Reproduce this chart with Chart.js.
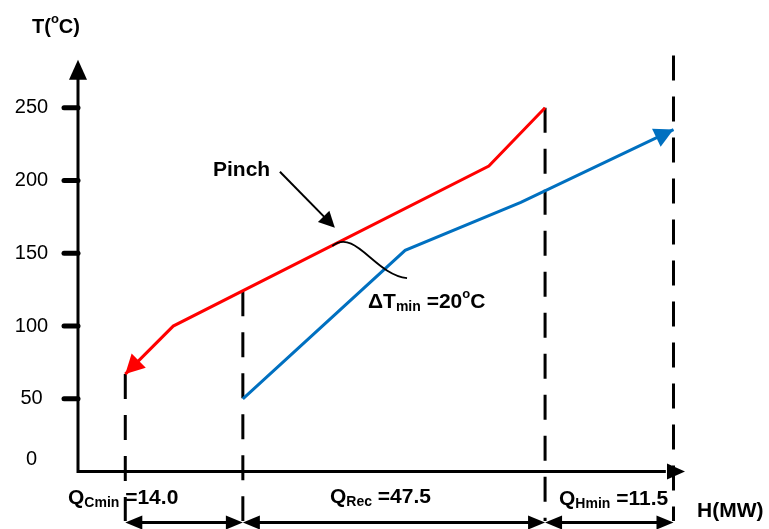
<!DOCTYPE html>
<html>
<head>
<meta charset="utf-8">
<script src="https://cdn.jsdelivr.net/npm/chart.js@4.4.0/dist/chart.umd.min.js"></script>
<style>
  html, body { margin: 0; padding: 0; background: #fff; }
  #wrap { width: 769px; height: 529px; position: relative; }
</style>
</head>
<body>
<div id="wrap"><canvas id="chart"></canvas></div>
<script>
// Composite curves - hot / cold streams

var hotH = [7.4, 14.9, 64.3, 73.1];
var hotT = [67, 100, 210, 250];
var coldH = [25.8, 51.2, 69.3, 93.2];
var coldT = [50, 152, 185, 235];
var tickT = [0, 50, 100, 150, 200, 250];
var boundH = [7.4, 25.8, 73.1, 93.2];
var boundTopT = [67, 124, 250, 286];
var qNames = ['Cmin', 'Rec', 'Hmin'];
var qValues = ['14.0', '47.5', '11.5'];

var COLORS = { hot: '#FF0000', cold: '#0070C0', ink: '#000000' };
var FONT = "'Liberation Sans', Arial, sans-serif";

function pts(xs, ys) {
  return xs.map(function (x, i) { return { x: x, y: ys[i] }; });
}

function arrowHead(ctx, x0, y0, x1, y1, len, half) {
  var a = Math.atan2(y1 - y0, x1 - x0);
  var bx = x1 - len * Math.cos(a), by = y1 - len * Math.sin(a);
  var nx = -Math.sin(a) * half, ny = Math.cos(a) * half;
  ctx.beginPath();
  ctx.moveTo(x1, y1);
  ctx.lineTo(bx + nx, by + ny);
  ctx.lineTo(bx - nx, by - ny);
  ctx.closePath();
  ctx.fill();
}

// text made of parts: [text, size, dy]
function richText(ctx, x, y, parts) {
  parts.forEach(function (p) {
    ctx.font = 'bold ' + p[1] + 'px ' + FONT;
    ctx.fillText(p[0], x, y + (p[2] || 0));
    x += ctx.measureText(p[0]).width;
  });
}

var datasets = [
  { data: pts(hotH, hotT), borderColor: COLORS.hot, borderWidth: 3 },
  { data: pts(coldH, coldT), borderColor: COLORS.cold, borderWidth: 3 }
];
boundH.forEach(function (h, i) {
  datasets.push({
    data: [{ x: h, y: boundTopT[i] }, { x: h, y: -34 }],
    borderColor: COLORS.ink, borderWidth: 3, borderDash: [25, 16]
  });
});
datasets.forEach(function (d) {
  d.showLine = true; d.pointRadius = 0; d.tension = 0; d.fill = false;
  d.borderCapStyle = 'butt';
});

var drawPlugin = {
  id: 'pinchDecor',
  afterDatasetsDraw: function (chart) {
    var ctx = chart.ctx;
    var xs = chart.scales.x, ys = chart.scales.y;
    var X = function (v) { return xs.getPixelForValue(v); };
    var Y = function (v) { return ys.getPixelForValue(v); };
    ctx.save();
    ctx.fillStyle = COLORS.ink;
    ctx.strokeStyle = COLORS.ink;

    // axes
    ctx.lineWidth = 3;
    ctx.beginPath();
    ctx.moveTo(X(0), Y(0) + 1.5);
    ctx.lineTo(X(0), Y(278));
    ctx.moveTo(X(0) - 1.5, Y(0));
    ctx.lineTo(X(92), Y(0));
    ctx.stroke();
    arrowHead(ctx, X(0), Y(0), X(0), Y(283), 20, 9);
    arrowHead(ctx, X(0), Y(0), X(95), Y(0), 18, 8);

    // y ticks
    ctx.lineWidth = 5;
    ctx.lineCap = 'round';
    ctx.textAlign = 'center';
    ctx.textBaseline = 'middle';
    ctx.font = '20px ' + FONT;
    tickT.forEach(function (t) {
      if (t > 0) {
        ctx.beginPath();
        ctx.moveTo(X(0) - 14, Y(t));
        ctx.lineTo(X(0), Y(t));
        ctx.stroke();
      }
      ctx.fillText(String(t), 31.5, Y(t) - (t === 0 ? 12 : 0));
    });
    ctx.lineCap = 'butt';

    // stream arrowheads
    ctx.fillStyle = COLORS.hot;
    arrowHead(ctx, X(hotH[1]), Y(hotT[1]), X(hotH[0]), Y(hotT[0]), 19, 10);
    ctx.fillStyle = COLORS.cold;
    var n = coldH.length - 1;
    arrowHead(ctx, X(coldH[n - 1]), Y(coldT[n - 1]), X(coldH[n]), Y(coldT[n]), 19, 10);
    ctx.fillStyle = COLORS.ink;

    // pinch pointer
    ctx.lineWidth = 2;
    ctx.beginPath();
    ctx.moveTo(X(31.6), Y(206));
    ctx.lineTo(X(39.0), Y(173));
    ctx.stroke();
    arrowHead(ctx, X(31.6), Y(206), X(40.2), Y(167.5), 16, 8);

    // dTmin bracket curve
    ctx.lineWidth = 1.8;
    ctx.beginPath();
    ctx.moveTo(X(39.8), Y(155));
    ctx.bezierCurveTo(X(43.4), Y(167.5), X(46.5), Y(135), X(51.5), Y(133));
    ctx.stroke();

    // duty dimension arrows
    ctx.lineWidth = 3;
    var yd = Y(-35);
    for (var i = 0; i < boundH.length - 1; i++) {
      var a = X(boundH[i]), b = X(boundH[i + 1]);
      ctx.beginPath();
      ctx.moveTo(a + 10, yd);
      ctx.lineTo(b - 10, yd);
      ctx.stroke();
      arrowHead(ctx, b, yd, a, yd, 17, 7);
      arrowHead(ctx, a, yd, b, yd, 17, 7);
    }

    // labels
    ctx.textAlign = 'left';
    ctx.textBaseline = 'alphabetic';
    richText(ctx, 32, 33, [['T(', 20], ['o', 13, -10], ['C)', 20]]);
    richText(ctx, 213, 176, [['Pinch', 21]]);
    richText(ctx, 368, 308, [['\u0394T', 21], ['min', 14, 3], [' =20', 21], ['o', 13, -10], ['C', 21]]);
    richText(ctx, 68, 504, [['Q', 21], [qNames[0], 14, 3], [' =' + qValues[0], 21]]);
    richText(ctx, 330, 503, [['Q', 21], [qNames[1], 14, 3], [' =' + qValues[1], 21]]);
    richText(ctx, 559, 505, [['Q', 21], [qNames[2], 14, 3], [' =' + qValues[2], 21]]);
    richText(ctx, 697, 517, [['H(MW)', 21]]);
    ctx.restore();
  }
};

new Chart(document.getElementById('chart'), {
  type: 'scatter',
  data: { datasets: datasets },
  options: {
    responsive: true,
    maintainAspectRatio: false,
    animation: false,
    layout: { padding: { left: 78, top: 35, right: 84, bottom: 5 } },
    plugins: { legend: { display: false }, tooltip: { enabled: false } },
    scales: {
      x: { type: 'linear', min: 0, max: 95, display: false },
      y: { type: 'linear', min: -36, max: 300, display: false }
    }
  },
  plugins: [drawPlugin]
});
</script>
</body>
</html>
